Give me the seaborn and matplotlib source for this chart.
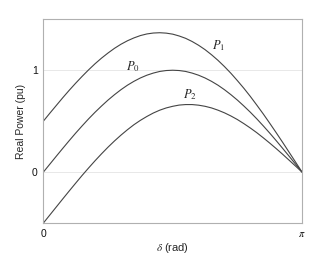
import numpy as np
import pandas as pd
import matplotlib
matplotlib.use("Agg")
import matplotlib.pyplot as plt
import seaborn as sns

# delta as fraction of pi
delta_frac = [i / 40 for i in range(41)]
p0 = [0.000, 0.078, 0.156, 0.233, 0.309, 0.383, 0.454, 0.523, 0.588, 0.649,
      0.707, 0.760, 0.809, 0.853, 0.891, 0.924, 0.951, 0.972, 0.988, 0.997,
      1.000,
      0.997, 0.988, 0.972, 0.951, 0.924, 0.891, 0.853, 0.809, 0.760, 0.707,
      0.649, 0.588, 0.523, 0.454, 0.383, 0.309, 0.233, 0.156, 0.078, 0.000]
p1 = [0.500, 0.578, 0.654, 0.730, 0.803, 0.873, 0.940, 1.004, 1.064, 1.119,
      1.169, 1.215, 1.255, 1.289, 1.317, 1.340, 1.356, 1.365, 1.368, 1.364,
      1.354,
      1.336, 1.313, 1.282, 1.245, 1.202, 1.152, 1.097, 1.036, 0.970, 0.898,
      0.823, 0.743, 0.658, 0.571, 0.480, 0.387, 0.292, 0.195, 0.098, 0.000]
p2 = [-0.500, -0.421, -0.342, -0.263, -0.185, -0.108, -0.032, 0.041, 0.112, 0.180,
      0.245, 0.306, 0.363, 0.416, 0.465, 0.508, 0.546, 0.580, 0.608, 0.630,
      0.646,
      0.658, 0.663, 0.663, 0.657, 0.646, 0.630, 0.608, 0.582, 0.551, 0.516,
      0.476, 0.433, 0.387, 0.337, 0.285, 0.231, 0.175, 0.117, 0.059, 0.000]
series_names = ["P0", "P1", "P2"]
label_text = {"P0": r"$P_0$", "P1": r"$P_1$", "P2": r"$P_2$"}
label_pos = {"P0": (0.347, 1.04), "P1": (0.678, 1.24), "P2": (0.567, 0.76)}

delta = np.array(delta_frac) * np.pi
df = pd.concat([
    pd.DataFrame({"delta": delta, "P": vals, "curve": name})
    for name, vals in zip(series_names, [p0, p1, p2])
])

sns.set_style("white")
plt.rcParams["font.family"] = ["Liberation Sans", "DejaVu Sans"]
plt.rcParams["mathtext.fontset"] = "stix"

fig = plt.figure(figsize=(3.36, 2.57), dpi=100)
ax = fig.add_axes([0.129, 0.132, 0.770, 0.793])

sns.lineplot(data=df, x="delta", y="P", units="curve", estimator=None,
             color="#444444", linewidth=0.8, ax=ax, legend=False)

for yv in [0, 1]:
    ax.axhline(yv, color="#e4e4e4", linewidth=0.6, zorder=0)

for name in series_names:
    fx, fy = label_pos[name]
    ax.text(fx * np.pi, fy, label_text[name], fontsize=9, ha="center",
            va="center")

ax.set_xlim(0, np.pi)
ax.set_ylim(-0.5, 1.5)
ax.set_xticks([0, np.pi])
ax.set_xticklabels(["0", r"$\pi$"])
ax.set_yticks([0, 1])
ax.set_yticklabels(["0", "1"])
ax.tick_params(axis="both", length=0, labelsize=7.5, colors="#111111", pad=4)
ax.set_xlabel(r"$\delta$ (rad)", fontsize=8, labelpad=2)
ax.set_ylabel("Real Power (pu)", fontsize=7.5, labelpad=4)
for s in ax.spines.values():
    s.set_color("#b0b0b0")
    s.set_linewidth(0.8)

fig.savefig("out.png", dpi=100)
